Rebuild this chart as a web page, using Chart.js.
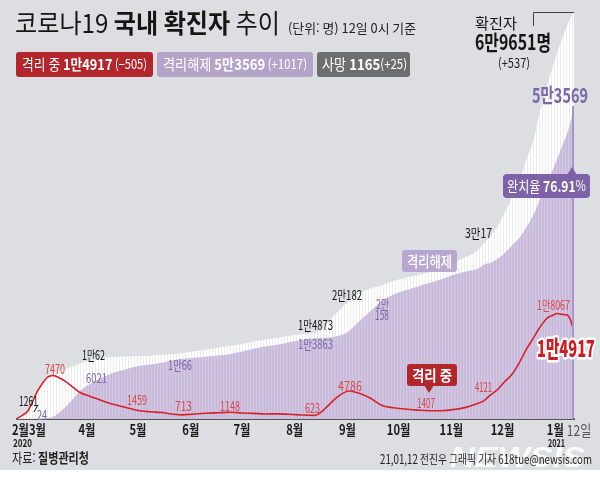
<!DOCTYPE html>
<html lang="ko">
<head>
<meta charset="utf-8">
<title>코로나19 국내 확진자 추이</title>
<script src="https://cdn.jsdelivr.net/npm/chart.js@4.4.1/dist/chart.umd.min.js"></script>
<style>
  html, body { margin: 0; padding: 0; background: #fff; }
  #wrap { width: 600px; height: 486px; }
</style>
</head>
<body>
<div id="wrap"><canvas id="chartCorona" width="600" height="486"></canvas></div>
<script>
// 코로나19 국내 확진자 추이 (12일 0시 기준)

const dates = [
  '2020-02-20', '2020-02-22', '2020-02-24', '2020-02-26', '2020-02-29',
  '2020-03-03', '2020-03-06', '2020-03-09', '2020-03-12', '2020-03-16',
  '2020-03-20', '2020-03-24', '2020-03-28', '2020-04-03', '2020-04-10',
  '2020-04-17', '2020-04-24', '2020-05-01', '2020-05-08', '2020-05-15',
  '2020-05-22', '2020-05-27', '2020-06-03', '2020-06-10', '2020-06-17',
  '2020-06-24', '2020-07-01', '2020-07-08', '2020-07-15', '2020-07-22',
  '2020-07-29', '2020-08-05', '2020-08-12', '2020-08-14', '2020-08-18',
  '2020-08-22', '2020-08-26', '2020-08-30', '2020-09-02', '2020-09-07',
  '2020-09-14', '2020-09-21', '2020-09-28', '2020-10-05', '2020-10-12',
  '2020-10-19', '2020-10-26', '2020-11-02', '2020-11-09', '2020-11-16',
  '2020-11-20', '2020-11-24', '2020-11-28', '2020-12-02', '2020-12-07',
  '2020-12-11', '2020-12-15', '2020-12-19', '2020-12-23', '2020-12-27',
  '2020-12-31', '2021-01-02', '2021-01-05', '2021-01-08', '2021-01-10',
  '2021-01-12'
];

// 누적 확진자
const totalCases = [
  104, 433, 833, 1261, 2931,
  4812, 6284, 7382, 7869, 8236,
  8652, 9037, 9478, 10062, 10450,
  10635, 10708, 10774, 10822, 10991,
  11142, 11265, 11590, 11902, 12198,
  12535, 12850, 13244, 13612, 13879,
  14251, 14499, 14714, 14873, 15761,
  17002, 18265, 19400, 20182, 21296,
  22285, 22893, 23611, 24164, 24606,
  25108, 25775, 26732, 27653, 28769,
  30017, 31353, 32887, 35163, 38161,
  40786, 44364, 47515, 52550, 56872,
  60740, 62593, 64979, 67358, 68664,
  69651
];

// 격리해제
const released = [
  16, 18, 22, 24, 27,
  34, 108, 166, 333, 1137,
  2233, 3507, 4811, 6021, 7117,
  7937, 8501, 9072, 9332, 9632,
  10066, 10295, 10467, 10654, 10856,
  11102, 11537, 12002, 12464, 12698,
  13132, 13503, 13786, 13863, 13917,
  14006, 14219, 14560, 15072, 16478,
  18291, 20158, 21292, 22040, 22650,
  23257, 23898, 24660, 25216, 25675,
  26414, 26719, 27365, 28323, 29812,
  31000, 32800, 34800, 37600, 40300,
  43000, 44400, 46700, 48900, 50900,
  53569
];

// 격리 중
const isolated = [
  88, 413, 803, 1225, 2887,
  4750, 6134, 7165, 7470, 7024,
  6325, 5410, 4523, 3867, 3125,
  2468, 1967, 1459, 1234, 1099,
  812, 713, 850, 972, 1064,
  1148, 1031, 957, 855, 884,
  818, 694, 623, 705, 1539,
  2687, 3731, 4518, 4786, 4485,
  3631, 2347, 1918, 1700, 1520,
  1407, 1420, 1600, 1950, 2600,
  3100, 4121, 5000, 6300, 7800,
  9700, 11900, 13800, 15700, 17200,
  17800, 18067, 17900, 17800, 16900,
  14917
];

const monthTickDates = ['2020-02-22', '2020-03-03', '2020-04-01', '2020-05-01', '2020-06-01', '2020-07-01',
  '2020-08-01', '2020-09-01', '2020-10-01', '2020-11-01', '2020-12-01', '2021-01-01'];
const monthTickLabels = ['2월', '3월', '4월', '5월', '6월', '7월', '8월', '9월', '10월', '11월', '12월', '1월'];

const FONT = '"Noto Sans CJK KR", "Noto Sans", sans-serif';
const f = (size, weight) => `${weight || 400} ${size}px ${FONT}`;

const dayNum = s => Math.round(Date.parse(s + 'T00:00:00Z') / 86400000);
const toPoints = arr => arr.map((v, i) => ({ x: dayNum(dates[i]), y: v }));

// 막대 느낌의 세로 줄무늬
function stripes(colors) {
  const c = document.createElement('canvas');
  c.width = colors.length;
  c.height = 1;
  const g = c.getContext('2d');
  colors.forEach((col, i) => { g.fillStyle = col; g.fillRect(i, 0, 1, 1); });
  return g.createPattern(c, 'repeat');
}

// 여러 글꼴이 섞인 텍스트 (가로 압축)
function runs(ctx, parts, x, y, opt) {
  opt = opt || {};
  ctx.save();
  ctx.textBaseline = 'middle';
  ctx.textAlign = 'left';
  const widths = parts.map(p => { ctx.font = p[1]; return ctx.measureText(p[0]).width; });
  const raw = widths.reduce((a, b) => a + b, 0);
  const sq = opt.w ? opt.w / raw : (opt.sq || 0.85);
  const full = raw * sq;
  let left = x;
  if (opt.align === 'center') left = x - full / 2;
  if (opt.align === 'right') left = x - full;
  ctx.translate(left, y);
  ctx.scale(sq, 1);
  let cx = 0;
  parts.forEach((p, i) => {
    ctx.font = p[1];
    if (opt.stroke) {
      ctx.lineJoin = 'round';
      ctx.strokeStyle = opt.stroke[0];
      ctx.lineWidth = opt.stroke[1];
      ctx.strokeText(p[0], cx, 0);
    }
    ctx.fillStyle = p[2];
    ctx.fillText(p[0], cx, 0);
    cx += widths[i];
  });
  ctx.restore();
}

function box(ctx, x, y, w, h, r, color) {
  ctx.save();
  ctx.fillStyle = color;
  ctx.beginPath();
  ctx.roundRect(x, y, w, h, r);
  ctx.fill();
  ctx.restore();
}

function tri(ctx, pts, color) {
  ctx.save();
  ctx.fillStyle = color;
  ctx.beginPath();
  ctx.moveTo(pts[0], pts[1]);
  ctx.lineTo(pts[2], pts[3]);
  ctx.lineTo(pts[4], pts[5]);
  ctx.closePath();
  ctx.fill();
  ctx.restore();
}

const backgroundPlugin = {
  id: 'bg',
  beforeDraw(chart) {
    const ctx = chart.ctx;
    ctx.save();
    ctx.fillStyle = '#ffffff';
    ctx.fillRect(0, 0, chart.width, chart.height);
    ctx.fillStyle = '#dddee1';
    ctx.fillRect(0, 0, chart.width, 470);
    ctx.restore();
  }
};

const textPlugin = {
  id: 'texts',
  afterDraw(chart) {
    const ctx = chart.ctx;
    const xs = chart.scales.x;
    const ys = chart.scales.y;
    const red = '#d8454a', purple = '#7d66a9', black = '#151515';

    // 마지막 격리해제 막대 강조
    const lastX = xs.getPixelForValue(dayNum(dates[dates.length - 1]));
    ctx.save();
    ctx.strokeStyle = '#a992c6';
    ctx.lineWidth = 2;
    ctx.beginPath();
    ctx.moveTo(lastX - 1, ys.getPixelForValue(released[released.length - 1]));
    ctx.lineTo(lastX - 1, ys.bottom);
    ctx.stroke();
    ctx.restore();

    // 제목
    runs(ctx, [['코로나19 ', f(26), black], ['국내 확진자', f(26, 700), black], [' 추이', f(26), black]], 15, 23, { w: 265 });
    runs(ctx, [['(단위: 명) 12일 0시 기준', f(13), '#222']], 288, 28, { w: 128 });

    // 요약 배지
    box(ctx, 16, 52, 137, 25, 3, '#b3262b');
    runs(ctx, [['격리 중 ', f(15), '#fff'], ['1만4917', f(15, 700), '#fff'], [' (−505)', f(13), '#fff']], 22, 64.5, { w: 125 });
    box(ctx, 157, 52, 156, 25, 3, '#b5a4ca');
    runs(ctx, [['격리해제 ', f(15), '#fff'], ['5만3569', f(15, 700), '#fff'], [' (+1017)', f(13), '#fff']], 163, 64.5, { w: 144 });
    box(ctx, 317, 52, 93, 25, 3, '#6e6e6e');
    runs(ctx, [['사망 ', f(15), '#fff'], ['1165', f(15, 700), '#fff'], ['(+25)', f(13), '#fff']], 322, 64.5, { w: 85 });

    // 누적 확진자
    runs(ctx, [['확진자', f(15), black]], 475, 23, { w: 42 });
    runs(ctx, [['6만9651명', f(21, 700), black]], 475, 42, { w: 76 });
    runs(ctx, [['(+537)', f(13), '#222']], 514, 63, { align: 'center', w: 32 });
    ctx.save();
    ctx.strokeStyle = '#444';
    ctx.lineWidth = 1;
    ctx.beginPath();
    ctx.moveTo(533.5, 26);
    ctx.lineTo(533.5, 12.5);
    ctx.lineTo(lastX, 12.5);
    ctx.stroke();
    ctx.restore();

    runs(ctx, [['5만3569', f(20, 700), purple]], 532, 95, { w: 56 });

    box(ctx, 503, 174, 87, 24, 4, '#7d62a8');
    tri(ctx, [567, 175, 577, 175, 572, 167], '#7d62a8');
    runs(ctx, [['완치율 ', f(15), '#fff'], ['76.91', f(15, 700), '#fff'], ['%', f(14), '#fff']], 507, 186, { w: 79 });

    // 데이터 라벨
    const small = f(13);
    runs(ctx, [['1261', small, black]], 19, 401, { w: 19 });
    ctx.save();
    ctx.strokeStyle = black;
    ctx.lineWidth = 1;
    ctx.beginPath();
    ctx.moveTo(38, 405);
    ctx.lineTo(34, 412);
    ctx.stroke();
    ctx.restore();
    runs(ctx, [['24', small, purple]], 37, 415, { w: 10 });
    runs(ctx, [['7470', small, red]], 45, 369, { w: 20 });
    runs(ctx, [['1만62', small, black]], 82, 355, { w: 23 });
    runs(ctx, [['6021', small, purple]], 86, 378, { w: 21 });
    runs(ctx, [['1459', small, red]], 127, 400, { w: 20 });
    runs(ctx, [['1만66', small, purple]], 168, 365, { w: 24 });
    runs(ctx, [['713', small, red]], 175, 406, { w: 17 });
    runs(ctx, [['1148', small, red]], 220, 406, { w: 20 });
    runs(ctx, [['1만4873', small, black]], 298, 325, { w: 35 });
    runs(ctx, [['1만3863', small, purple]], 298, 344, { w: 35 });
    runs(ctx, [['623', small, red]], 305, 408, { w: 15 });
    runs(ctx, [['2만182', small, black]], 332, 295, { w: 30 });
    runs(ctx, [['4786', small, red]], 338, 386, { w: 24 });
    runs(ctx, [['2만', small, purple]], 376, 304, { w: 13 });
    runs(ctx, [['158', small, purple]], 375, 315, { w: 14 });
    runs(ctx, [['1407', small, red]], 417, 403, { w: 18 });
    runs(ctx, [['3만17', small, black]], 465, 233, { w: 27 });
    runs(ctx, [['4121', small, red]], 475, 387, { w: 17 });
    runs(ctx, [['1만8067', small, red]], 537, 305, { w: 33 });

    // 시리즈 이름표
    box(ctx, 402, 250, 55, 22, 3, 'rgba(176,158,204,0.85)');
    runs(ctx, [['격리해제', f(15, 500), '#fff']], 429.5, 261, { align: 'center', w: 45 });
    box(ctx, 407, 364, 50, 22, 3, '#b3262b');
    tri(ctx, [424, 385, 434, 385, 429, 393], '#b3262b');
    runs(ctx, [['격리 중', f(15, 700), '#fff']], 432, 375, { align: 'center', w: 40 });

    runs(ctx, [['1만4917', f(23, 800), '#cc1d23']], 537, 348, { w: 58, stroke: ['#fff', 5] });

    // x축 라벨
    monthTickDates.forEach((d, i) => {
      runs(ctx, [[monthTickLabels[i], f(14, 700), '#1a1a1a']], xs.getPixelForValue(dayNum(d)), 430, { align: 'center', sq: 0.8 });
    });
    runs(ctx, [['12일', f(15), '#555']], lastX + 5, 430, { align: 'center', sq: 0.8 });
    runs(ctx, [['2020', f(10, 700), '#1a1a1a']], 22.5, 443, { align: 'center', w: 19 });
    runs(ctx, [['2021', f(10, 700), '#1a1a1a']], 556.5, 443, { align: 'center', w: 17 });

    // 출처
    runs(ctx, [['자료: ', f(14), '#222'], ['질병관리청', f(14, 700), '#222']], 12, 458, { w: 77 });
    runs(ctx, [['NEWSIS', 'italic 900 30px "Liberation Sans", sans-serif', 'rgba(255,255,255,0.85)']], 450, 459, { w: 135 });
    runs(ctx, [['21,01,12 전진우 그래픽 기자 618tue@newsis.com', f(12.5), '#222']], 380, 459, { w: 212 });
  }
};

const ctx = document.getElementById('chartCorona').getContext('2d');

new Chart(ctx, {
  type: 'line',
  data: {
    datasets: [
      {
        label: '격리 중',
        data: toPoints(isolated),
        borderColor: '#d6212a',
        borderWidth: 1.6,
        fill: false,
        pointRadius: 0,
        cubicInterpolationMode: 'monotone',
        order: 1
      },
      {
        label: '격리해제',
        data: toPoints(released),
        borderWidth: 0,
        borderColor: 'rgba(0,0,0,0)',
        backgroundColor: stripes(['#c7b8da', '#d3c8e2', '#ccbfdd']),
        fill: 'origin',
        pointRadius: 0,
        cubicInterpolationMode: 'monotone',
        order: 2
      },
      {
        label: '확진자',
        data: toPoints(totalCases),
        borderWidth: 0,
        borderColor: 'rgba(0,0,0,0)',
        backgroundColor: stripes(['#ffffff', '#ffffff', '#ebebef']),
        fill: 'origin',
        pointRadius: 0,
        cubicInterpolationMode: 'monotone',
        order: 3
      }
    ]
  },
  options: {
    responsive: false,
    animation: false,
    devicePixelRatio: 1,
    layout: { padding: { left: 17, right: 26, top: 12, bottom: 67 } },
    plugins: {
      legend: { display: false },
      tooltip: { enabled: false }
    },
    scales: {
      x: {
        type: 'linear',
        min: dayNum('2020-02-20'),
        max: dayNum('2021-01-12'),
        grid: { display: false, drawTicks: false },
        border: { display: true, color: '#555', width: 2 },
        ticks: { display: false }
      },
      y: {
        display: false,
        min: 0,
        max: 69651
      }
    }
  },
  plugins: [backgroundPlugin, textPlugin]
});
</script>
</body>
</html>
